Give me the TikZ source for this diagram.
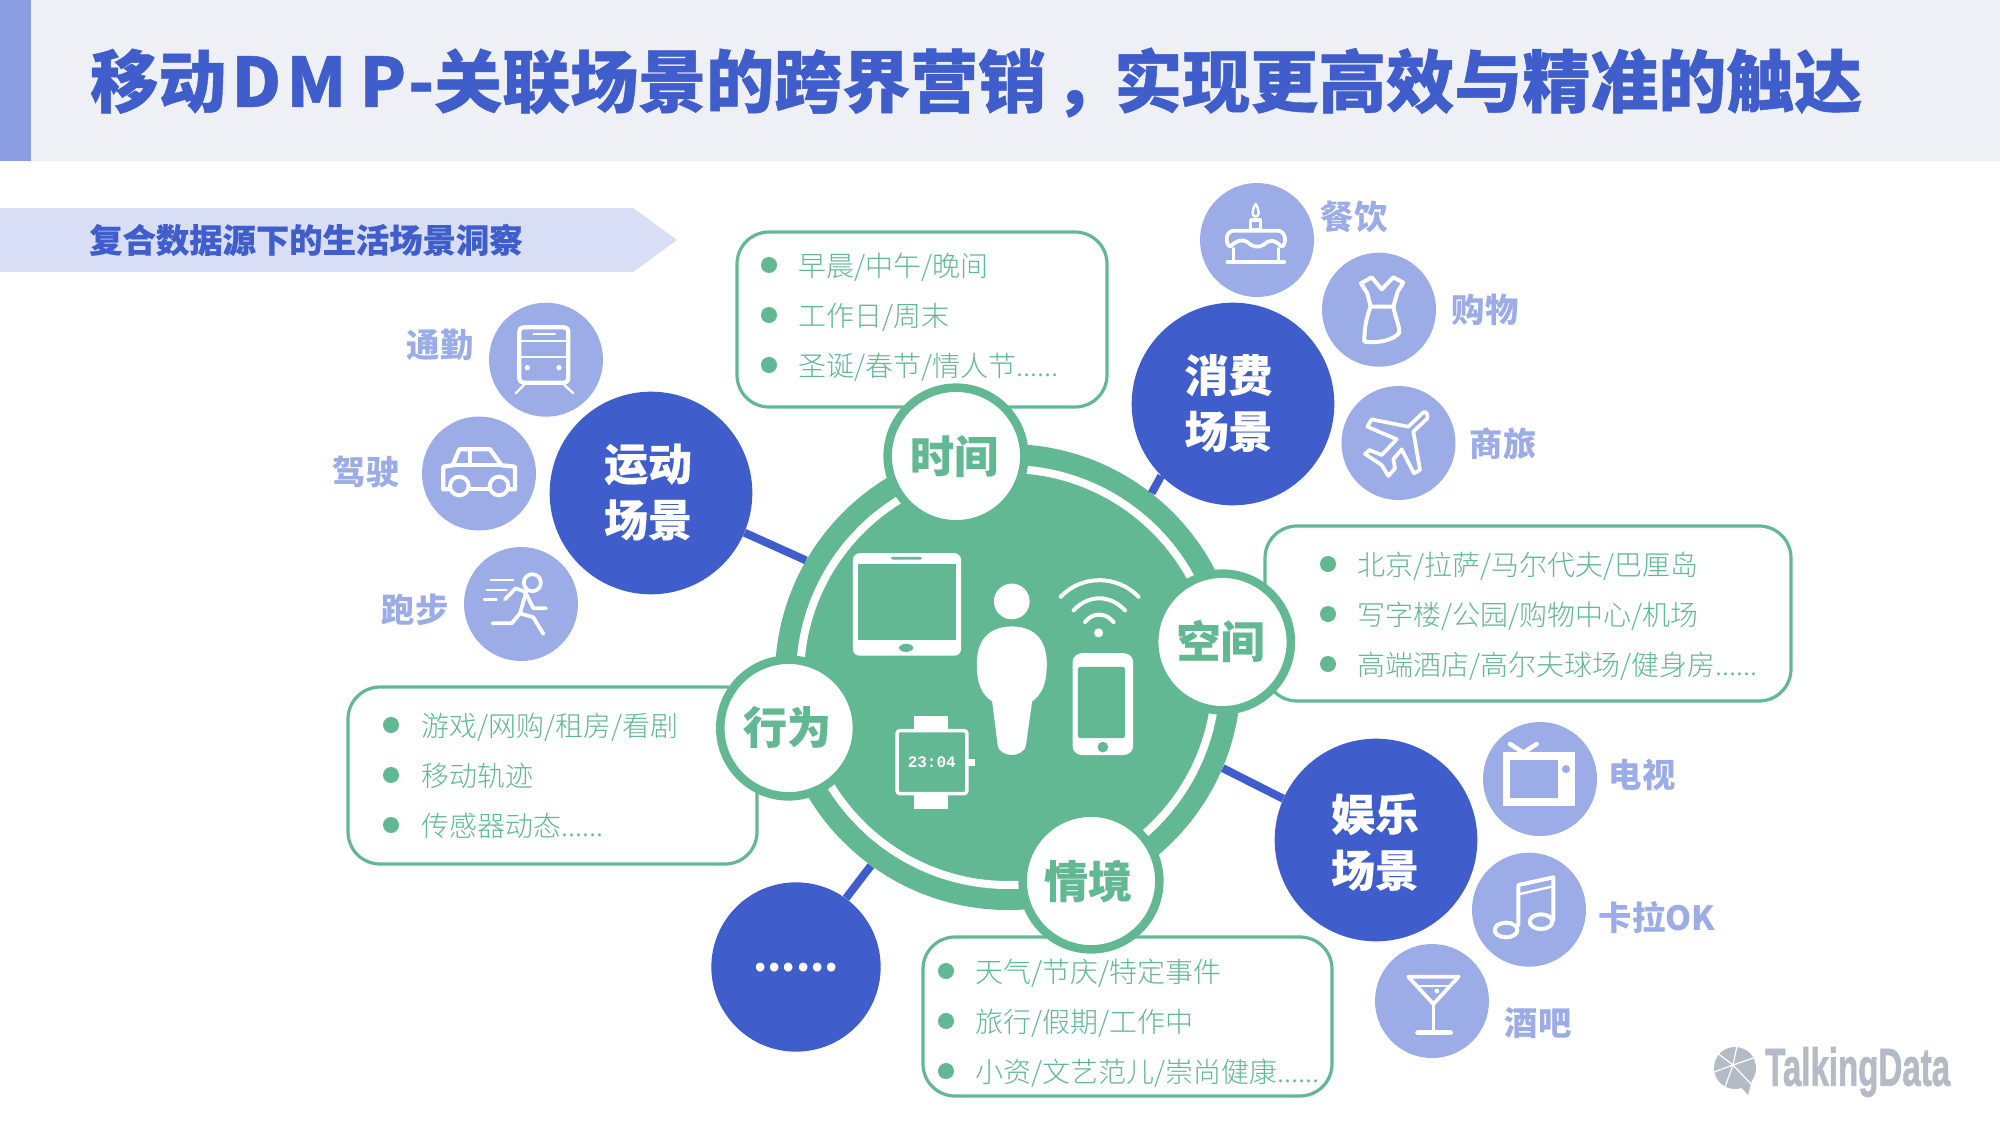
\documentclass[tikz,border=0pt]{standalone}
\usepackage{fontspec}
\setmainfont{Noto Sans CJK SC}
\newfontfamily\lightfnt{Noto Sans CJK SC Light}
\newfontfamily\monofnt{Liberation Mono}
\newfontfamily\logofnt{Liberation Sans}
\definecolor{bluec}{HTML}{3F5DCB}
\definecolor{litec}{HTML}{9BACE6}
\definecolor{greenc}{HTML}{62B893}
\definecolor{headbg}{HTML}{EEF0F6}
\definecolor{headbar}{HTML}{8C9EE2}
\definecolor{bannerc}{HTML}{D8DEF6}
\definecolor{logoc}{HTML}{B4BAC6}
\tikzset{
  x=.75pt,y=-.75pt,
  bigc/.style={circle,fill=bluec,minimum size=152pt,inner sep=0},
  bigtxt/.style={inner sep=0,text=white,align=center,
    font=\fontsize{33}{42}\selectfont\bfseries\addfontfeature{FakeBold=0.3}},
  litc/.style={circle,fill=litec,minimum size=85.5pt,inner sep=0},
  topic/.style={circle,draw=greenc,line width=6.4pt,fill=white,minimum size=102.5pt,inner sep=0},
  topictxt/.style={inner sep=0,text=greenc,
    font=\fontsize{33}{41}\selectfont\bfseries\addfontfeature{FakeBold=0.3}},
  infobox/.style={draw=greenc,line width=2.4pt,fill=white,rounded corners=24pt},
  linetxt/.style={anchor=west,inner sep=0,text=greenc,text height=18.5pt,text depth=2.5pt,
    font=\fontsize{21}{25}\selectfont\lightfnt},
  sidelabel/.style={inner sep=0,text=litec,text height=22pt,text depth=3pt,
    font=\fontsize{25}{29}\selectfont\bfseries},
  bull/.style={fill=greenc},
  conn/.style={draw=bluec,line width=6pt},
  ico/.style={draw=white,line width=3.2pt,line cap=round,line join=round},
  icoth/.style={draw=white,line width=1.8pt,line cap=round,line join=round},
}
\begin{document}
\begin{tikzpicture}
\useasboundingbox (0,0) rectangle (2000,1125);
\fill[white] (0,0) rectangle (2000,1125);
% header
\fill[headbg] (0,0) rectangle (2000,161);
\fill[headbar] (0,0) rectangle (31,161);
\node[anchor=west,inner sep=0,text=bluec,text height=44.9pt,text depth=6.1pt,font=\fontsize{51}{56}\selectfont\bfseries\addfontfeature{FakeBold=0.7}] (title) at (90,81)
 {移动\kern4pt D\kern4pt M\kern10pt P\kern1.5pt -\kern0pt 关联场景的跨界营销\kern6pt ，\kern-6pt 实现更高效与精准的触达};
% banner
\fill[bannerc] (0,208) -- (633,208) -- (677,240) -- (633,272) -- (0,272) -- cycle;
\node[anchor=west,inner sep=0,text=bluec,text height=22pt,text depth=3pt,font=\fontsize{25}{30}\selectfont\bfseries\addfontfeature{FakeBold=0.3}] (banner) at (89,240) {复合数据源下的生活场景洞察};

% hub and big circles
\node[circle,fill=greenc,minimum size=349.5pt,inner sep=0] (hub) at (1008,677) {};
\draw[white,line width=6pt] (hub.center) circle [radius=156pt];
\node[bigc] (run) at (651,493) {};
\node[bigc] (cons) at (1233,404) {};
\node[bigc] (ent) at (1376,840) {};
\node[bigc,minimum size=127pt] (dots) at (796,967) {};
\node[bigtxt] (runtxt) at (648,492) {运动\\场景};
\node[bigtxt] (constxt) at (1228.5,403) {消费\\场景};
\node[bigtxt] (enttxt) at (1375,842) {娱乐\\场景};
\node[anchor=base,inner sep=0,text=white,font=\fontsize{30.5}{36}\selectfont\bfseries] (dotstxt) at (796,971.5) {......};
\draw[conn] (hub.150.7) -- (run.-23);
\draw[conn] (hub.52.2) -- (cons.225.4);
\draw[conn] (hub.-23.2) -- (ent.156.7);
\draw[conn] (hub.234.5) -- (dots.54);

% info boxes
\draw[infobox] (737,232) rectangle (1107,407);
\draw[infobox] (1265,526) rectangle (1791,701);
\draw[infobox] (348,687) rectangle (757,864);
\draw[infobox] (923,937) rectangle (1332,1096);

\fill[bull] (769,265) circle [radius=6pt];
\fill[bull] (769,315) circle [radius=6pt];
\fill[bull] (769,365) circle [radius=6pt];
\node[linetxt] (a1) at (798,266) {早晨/中午/晚间};
\node[linetxt] (a2) at (798,316) {工作日/周末};
\node[linetxt] (a3) at (798,366) {圣诞/春节/情人节......};

\fill[bull] (1328,564) circle [radius=6pt];
\fill[bull] (1328,614) circle [radius=6pt];
\fill[bull] (1328,664) circle [radius=6pt];
\node[linetxt] (b1) at (1357,565) {北京/拉萨/马尔代夫/巴厘岛};
\node[linetxt] (b2) at (1357,615) {写字楼/公园/购物中心/机场};
\node[linetxt] (b3) at (1357,665) {高端酒店/高尔夫球场/健身房......};

\fill[bull] (391,725) circle [radius=6pt];
\fill[bull] (391,775) circle [radius=6pt];
\fill[bull] (391,825) circle [radius=6pt];
\node[linetxt] (c1) at (421,726) {游戏/网购/租房/看剧};
\node[linetxt] (c2) at (421,776) {移动轨迹};
\node[linetxt] (c3) at (421,826) {传感器动态......};

\fill[bull] (946,971) circle [radius=6pt];
\fill[bull] (946,1021) circle [radius=6pt];
\fill[bull] (946,1071) circle [radius=6pt];
\node[linetxt] (d1) at (975,972) {天气/节庆/特定事件};
\node[linetxt] (d2) at (975,1022) {旅行/假期/工作中};
\node[linetxt] (d3) at (975,1072) {小资/文艺范儿/崇尚健康......};

% topic circles
\node[topic] (tm) at (956,456) {};
\node[topic] (sp) at (1222.5,642) {};
\node[topic] (bh) at (788.6,728) {};
\node[topic] (ct) at (1091,881) {};
\node[topictxt] (tmt) at (954,456) {时间};
\node[topictxt] (spt) at (1220.5,641) {空间};
\node[topictxt] (bht) at (787,727) {行为};
\node[topictxt] (ctt) at (1088,881) {情境};

% light circles
\node[litc] (l1) at (546,359.7) {};
\node[litc] (l2) at (479,473.5) {};
\node[litc] (l3) at (521,604) {};
\node[litc] (l4) at (1257,240) {};
\node[litc] (l5) at (1379,309.7) {};
\node[litc] (l6) at (1398.5,443) {};
\node[litc] (l7) at (1540,779) {};
\node[litc] (l8) at (1529,909.7) {};
\node[litc] (l9) at (1432,1001) {};
\node[sidelabel] (s1) at (440,345) {通勤};
\node[sidelabel] (s2) at (366,472) {驾驶};
\node[sidelabel] (s3) at (415,610) {跑步};
\node[sidelabel] (s4) at (1354,217) {餐饮};
\node[sidelabel] (s5) at (1485,310) {购物};
\node[sidelabel] (s6) at (1503,444) {商旅};
\node[sidelabel] (s7) at (1642,775) {电视};
\node[sidelabel] (s8) at (1657,918) {卡拉OK};
\node[sidelabel] (s9) at (1538,1023) {酒吧};

% left icons
\begin{scope}[shift={(320,280)},x=.25pt,y=-.25pt]
 % train
 \draw[ico,rounded corners=3pt] (598,142) rectangle (745,308);
 \draw[icoth,line width=1.5pt] (600,182) -- (745,182) (600,232) -- (745,232);
 \draw[icoth,line width=1.5pt] (640,163) -- (705,163);
 \fill[white] (622,263) circle [radius=2pt] (717,263) circle [radius=2pt];
 \draw[icoth] (612,315) -- (587,340) (733,315) -- (760,340);
 % car
 \draw[ico,line width=3.2pt,line cap=butt] (388,628) -- (370,628) -- (370,560) -- (398,556) -- (418,508) -- (510,508) -- (545,556) -- (585,560) -- (585,628) -- (565,628);
 \draw[ico,line width=3.2pt] (398,556) -- (545,556) (450,510) -- (450,556);
 \draw[ico,line width=3.2pt,line cap=butt] (447,628) -- (508,628);
 \draw[ico,line width=3pt] (418,618) circle [radius=7pt] (537,618) circle [radius=7pt];
 % runner
 \draw[ico,line width=2.8pt] (637,908) circle [radius=6.4pt];
 \draw[icoth] (512,900) -- (580,900) (500,930) -- (560,930) (492,958) -- (530,958);
 \draw[ico,line width=2.8pt] (555,958) -- (587,925) -- (615,935) -- (640,985) -- (678,985);
 \draw[ico,line width=2.8pt] (618,938) -- (600,1000) -- (640,1012) -- (670,1062);
 \draw[ico,line width=2.8pt] (600,1000) -- (575,1030) -- (517,1030);
\end{scope}

% top-right icons
\begin{scope}[shift={(1130,170)},x=.25pt,y=-.25pt]
 % cake
 \draw[icoth] (377,102) .. controls (365,120) and (365,140) .. (377,140) .. controls (389,140) and (389,120) .. (377,102) -- cycle;
 \draw[ico,line width=2.4pt] (362,150) rectangle (392,180);
 \draw[ico,line width=2.8pt] (310,182) -- (445,182) .. controls (470,185) and (470,225) .. (455,230) .. controls (430,205) and (415,210) .. (400,225) .. controls (385,235) and (365,230) .. (350,215) .. controls (335,205) and (315,215) .. (300,230) .. controls (285,222) and (285,185) .. (310,182) -- cycle;
 \draw[ico,line width=2.4pt] (310,235) -- (310,272) (445,235) -- (445,272);
 \draw[ico,line width=2.6pt] (292,276) -- (463,276);
 % dress
 \draw[ico,line width=3pt] (725,322) -- (755,358) -- (790,322) -- (820,338) -- (803,365) -- (790,410) -- (722,410) -- (712,370) -- (693,340) -- cycle;
 \draw[ico,line width=3pt] (722,410) .. controls (710,440) and (703,470) .. (703,515) .. controls (750,520) and (790,510) .. (808,488) .. controls (808,465) and (795,440) .. (790,410);
 % plane
 \draw[ico,line width=2.8pt] (880,727) .. controls (888,722) and (896,735) .. (892,745) -- (850,785) -- (870,900) -- (852,910) -- (815,838) -- (790,868) -- (795,895) -- (775,918) -- (755,885) -- (705,852) -- (718,840) -- (755,855) -- (800,808) -- (712,770) -- (725,748) -- (835,770) -- cycle;
\end{scope}

% TV and notes
\begin{scope}[shift={(1470,710)},x=.25pt,y=-.25pt]
 \draw[ico,line width=3.4pt] (120,102) -- (160,128) -- (200,102);
 \fill[white] (100,127) rectangle (315,287);
 \fill[litec] (120,150) rectangle (263,265);
 \fill[litec] (288,177) circle [radius=3pt];
 \draw[ico,line width=3pt] (108,660) ellipse [x radius=8.5pt,y radius=5.5pt];
 \draw[ico,line width=3pt] (213,635) ellipse [x radius=8.5pt,y radius=5.5pt];
 \draw[ico,line width=3pt] (145,645) -- (145,525) -- (250,502) -- (250,630);
 \draw[icoth] (150,552) -- (245,530);
\end{scope}

% cocktail
\begin{scope}[shift={(1340,700)},x=.31566pt,y=-.25pt]
 \draw[ico,line width=2.8pt] (162,830) -- (282,830) -- (222,912) -- cycle;
 \draw[icoth] (187,858) -- (258,858);
 \fill[white] (230,873) ellipse [x radius=1.8pt,y radius=1.8pt];
 \draw[ico,line width=2.8pt] (222,912) -- (222,995);
 \draw[ico,line width=4pt] (185,998) -- (262,998);
\end{scope}

% central icons
\begin{scope}[shift={(760,380)},x=.26786pt,y=-.26786pt]
 % tablet
 \fill[white,rounded corners=5pt] (260,485) rectangle (563,772);
 \fill[greenc] (274,515) rectangle (549,727);
 \fill[greenc,rounded corners=1pt] (367,495) rectangle (453,503);
 \fill[greenc] (409,750) ellipse [x radius=5.3pt,y radius=3pt];
 % person
 \fill[white] (705,620) circle [radius=13.4pt];
 \fill[white] (705,690) .. controls (770,690) and (805,730) .. (803,800) .. controls (802,850) and (790,880) .. (762,900) -- (745,1020) .. controls (740,1060) and (670,1060) .. (665,1020) -- (650,900) .. controls (620,880) and (608,850) .. (607,800) .. controls (605,730) and (640,690) .. (705,690) -- cycle;
 % wifi
 \draw[ico,line width=3pt] (842,607) .. controls (900,545) and (1000,545) .. (1060,607);
 \draw[ico,line width=3pt] (878,645) .. controls (920,600) and (980,600) .. (1022,645);
 \draw[ico,line width=3pt] (910,678) .. controls (930,650) and (968,650) .. (990,678);
 \fill[white] (948,708) circle [radius=3.4pt];
 % phone
 \fill[white,rounded corners=7pt] (875,765) rectangle (1045,1050);
 \fill[greenc,rounded corners=2pt] (890,803) rectangle (1022,1003);
 \fill[greenc] (960,1028) circle [radius=4pt];
 % watch
 \fill[white] (430,940) rectangle (527,985);
 \fill[white] (430,1155) rectangle (525,1200);
 \fill[white] (575,1060) rectangle (602,1082);
 \draw[draw=white,line width=2.6pt,fill=greenc,rounded corners=2pt] (384,982) rectangle (579,1158);
 \node[inner sep=0,text=white,font=\fontsize{12}{14}\selectfont\monofnt\bfseries] (watchtime) at (481,1070) {23:04};
\end{scope}

% logo
\fill[logoc] (1735,1068) circle [radius=15.75pt];
\fill[logoc] (1738,1084) -- (1748,1095) -- (1752,1080) -- cycle;
\draw[white,line width=.9pt] (1733,1065) -- (1737,1046) (1733,1065) -- (1756,1057) (1733,1065) -- (1751,1084) (1733,1065) -- (1714,1072) (1733,1065) -- (1725,1087) (1733,1065) -- (1716,1052);
\node[anchor=west,inner sep=0,text=logoc,xscale=.62,font=\fontsize{40}{46}\selectfont\logofnt\bfseries\addfontfeature{FakeBold=1.5}] (logo) at (1765,1072) {TalkingData};
\end{tikzpicture}
\end{document}
